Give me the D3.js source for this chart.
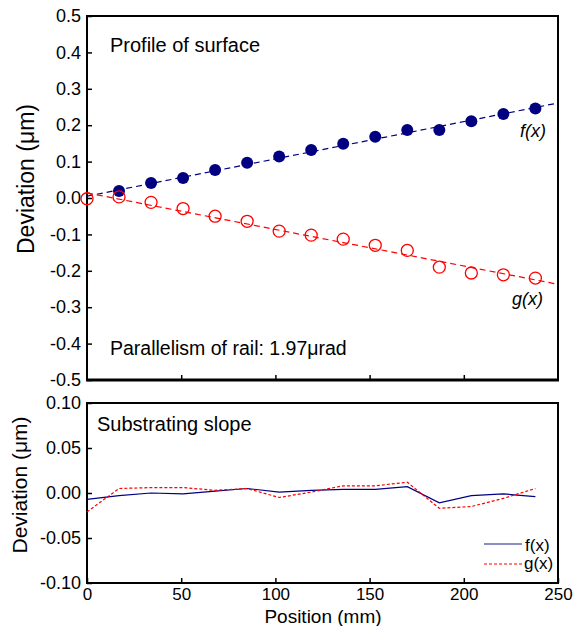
<!DOCTYPE html>
<html>
<head>
<meta charset="utf-8">
<script src="https://cdn.jsdelivr.net/npm/d3@7"></script>
<style>
  body { margin: 0; background: #fff; }
  svg text { font-family: "Liberation Sans", Arial, sans-serif; fill: #000; }
</style>
</head>
<body>
<svg id="chart" width="580" height="626"></svg>
<script>
// positions along the rail (mm)
var posAll = [0, 17, 34, 51, 68, 85, 102, 119, 136, 153, 170, 187, 204, 221, 238];
var posF = posAll.slice(1);

// profile of surface (um)
var profF = [0.019, 0.041, 0.055, 0.077, 0.097, 0.114, 0.132, 0.149, 0.168, 0.187, 0.187, 0.211, 0.231, 0.246];
var profG = [-0.002, 0.003, -0.012, -0.029, -0.050, -0.064, -0.091, -0.102, -0.113, -0.130, -0.144, -0.190, -0.206, -0.211, -0.220];

// fitted straight lines, read at x = 0 and x = 250
var fitX = [0, 250];
var fitF = [0.005, 0.261];
var fitG = [0.014, -0.237];

// after subtracting the slope (um)
var slopeF = [-0.007, -0.003, 0.000, -0.001, 0.002, 0.005, 0.001, 0.003, 0.004, 0.004, 0.007, -0.011, -0.003, -0.001, -0.004];
var slopeG = [-0.021, 0.005, 0.006, 0.006, 0.003, 0.005, -0.005, 0.001, 0.008, 0.008, 0.012, -0.017, -0.015, -0.006, 0.005];

var xTicks = [0, 50, 100, 150, 200, 250];
var topTicks = [0.5, 0.4, 0.3, 0.2, 0.1, 0.0, -0.1, -0.2, -0.3, -0.4, -0.5];
var botTicks = [0.10, 0.05, 0.00, -0.05, -0.10];

var navy = "#000080", red = "#ff0000";

var svg = d3.select("#chart");

var x = d3.scaleLinear().domain([0, 250]).range([87, 558]);
var yTop = d3.scaleLinear().domain([-0.5, 0.5]).range([380, 16]);
var yBot = d3.scaleLinear().domain([-0.1, 0.1]).range([583, 403]);

// plain hyphen for negatives, like the original
function fmt(spec) {
  var f = d3.format(spec);
  return function(d) { return f(d).replace("\u2212", "-"); };
}

// ---------- top panel ----------
var upper = svg.append("g");

upper.append("g")
    .attr("transform", "translate(87,0)")
    .call(d3.axisLeft(yTop).tickValues(topTicks).tickSize(-5).tickPadding(6).tickFormat(fmt(".1f")))
    .call(function(g) { g.select(".domain").remove(); });

upper.append("g")
    .attr("transform", "translate(0,380)")
    .call(d3.axisBottom(x).tickValues(xTicks.slice(1, -1)).tickSize(-5).tickFormat(""))
    .call(function(g) { g.select(".domain").remove(); });

upper.append("rect")
    .attr("x", 87).attr("y", 16).attr("width", 471).attr("height", 364)
    .attr("fill", "none").attr("stroke", "#000").attr("stroke-width", 2);
upper.append("line")
    .attr("x1", 86).attr("x2", 559).attr("y1", 380).attr("y2", 380)
    .attr("stroke", "#000").attr("stroke-width", 3);

var lineTop = d3.line()
    .x(function(d) { return x(d[0]); })
    .y(function(d) { return yTop(d[1]); });

upper.append("path")
    .datum(d3.zip(fitX, fitF))
    .attr("d", lineTop)
    .attr("fill", "none").attr("stroke", navy).attr("stroke-width", 1.2)
    .attr("stroke-dasharray", "6,4");
upper.append("path")
    .datum(d3.zip(fitX, fitG))
    .attr("d", lineTop)
    .attr("fill", "none").attr("stroke", red).attr("stroke-width", 1.2)
    .attr("stroke-dasharray", "6,4");

upper.append("g").selectAll("circle")
    .data(d3.zip(posF, profF))
    .enter().append("circle")
      .attr("cx", function(d) { return x(d[0]); })
      .attr("cy", function(d) { return yTop(d[1]); })
      .attr("r", 6)
      .attr("fill", navy);

upper.append("g").selectAll("circle")
    .data(d3.zip(posAll, profG))
    .enter().append("circle")
      .attr("cx", function(d) { return x(d[0]); })
      .attr("cy", function(d) { return yTop(d[1]); })
      .attr("r", 6)
      .attr("fill", "none")
      .attr("stroke", red).attr("stroke-width", 1.3);

upper.append("text").attr("x", 110).attr("y", 52).attr("font-size", 20).text("Profile of surface");
upper.append("text").attr("x", 110).attr("y", 355).attr("font-size", 19.5).text("Parallelism of rail: 1.97\u03bcrad");
upper.append("text").attr("x", 520).attr("y", 137).attr("font-size", 18).attr("font-style", "italic").text("f(x)");
upper.append("text").attr("x", 512).attr("y", 305).attr("font-size", 18).attr("font-style", "italic").text("g(x)");

upper.append("text")
    .attr("transform", "translate(34,179) rotate(-90)")
    .attr("text-anchor", "middle")
    .attr("font-size", 23)
    .text("Deviation (\u03bcm)");

// ---------- bottom panel ----------
var lower = svg.append("g");

lower.append("g")
    .attr("transform", "translate(87,0)")
    .call(d3.axisLeft(yBot).tickValues(botTicks).tickSize(-5).tickPadding(6).tickFormat(fmt(".2f")))
    .call(function(g) { g.select(".domain").remove(); });

var xAxisG = lower.append("g")
    .attr("transform", "translate(0,583)")
    .call(d3.axisBottom(x).tickValues(xTicks).tickSize(-5).tickPadding(5))
    .call(function(g) { g.select(".domain").remove(); });

lower.append("rect")
    .attr("x", 87).attr("y", 403).attr("width", 471).attr("height", 180)
    .attr("fill", "none").attr("stroke", "#000").attr("stroke-width", 2);

svg.selectAll(".tick text").attr("font-size", 18).attr("font-family", "Liberation Sans, Arial, sans-serif").attr("fill", "#000");
xAxisG.selectAll(".tick text").attr("font-size", 17);
svg.selectAll(".tick line").attr("stroke-width", 1.5);

var lineBot = d3.line()
    .x(function(d) { return x(d[0]); })
    .y(function(d) { return yBot(d[1]); });

lower.append("path")
    .datum(d3.zip(posAll, slopeF))
    .attr("d", lineBot)
    .attr("fill", "none").attr("stroke", navy).attr("stroke-width", 1.2);
lower.append("path")
    .datum(d3.zip(posAll, slopeG))
    .attr("d", lineBot)
    .attr("fill", "none").attr("stroke", red).attr("stroke-width", 1.2)
    .attr("stroke-dasharray", "3,2");

lower.append("text").attr("x", 97).attr("y", 431).attr("font-size", 20).text("Substrating slope");

// legend
var legend = lower.append("g");
legend.append("line").attr("x1", 484).attr("x2", 522).attr("y1", 544).attr("y2", 544)
    .attr("stroke", navy).attr("stroke-opacity", 0.6).attr("stroke-width", 1.5);
legend.append("line").attr("x1", 484).attr("x2", 522).attr("y1", 564).attr("y2", 564)
    .attr("stroke", red).attr("stroke-width", 1.2).attr("stroke-dasharray", "3,2");
legend.append("text").attr("x", 525).attr("y", 551).attr("font-size", 17).text("f(x)");
legend.append("text").attr("x", 524).attr("y", 569).attr("font-size", 17).text("g(x)");

lower.append("text")
    .attr("transform", "translate(27,485) rotate(-90)")
    .attr("text-anchor", "middle")
    .attr("font-size", 21)
    .text("Deviation (\u03bcm)");

lower.append("text")
    .attr("x", 323).attr("y", 623)
    .attr("text-anchor", "middle")
    .attr("font-size", 19)
    .text("Position (mm)");
</script>
</body>
</html>
